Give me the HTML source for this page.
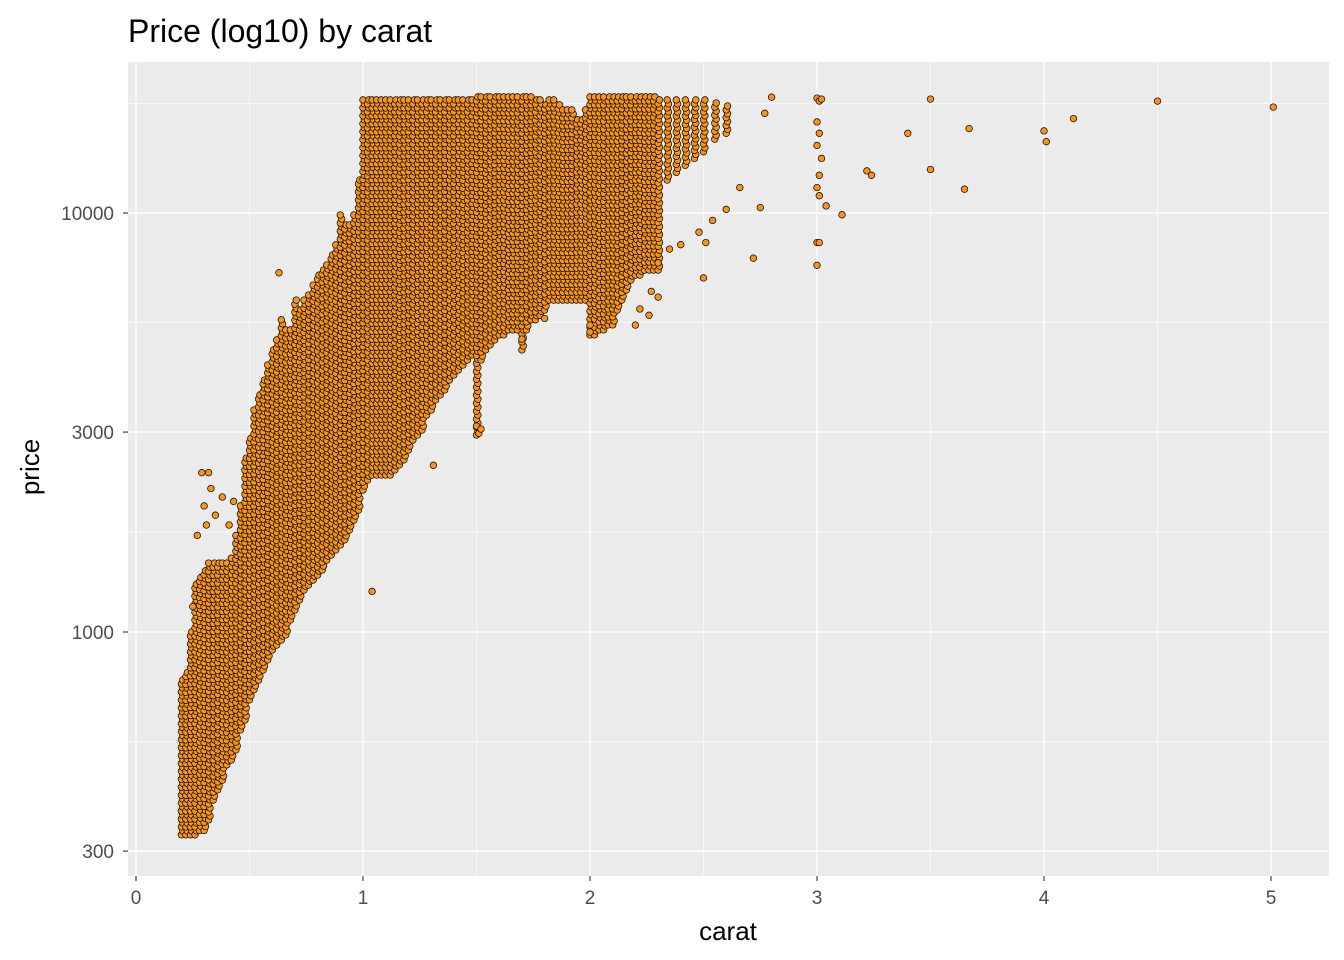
<!DOCTYPE html>
<html><head><meta charset="utf-8"><style>
body{margin:0;background:#fff;}
svg{display:block;font-family:"Liberation Sans",Arial,sans-serif;}
</style></head><body>
<svg id="chart" width="1344" height="960">
<text x="128" y="42" font-size="32" fill="#000">Price (log10) by carat</text>
<rect x="128" y="62" width="1201" height="814" fill="#ebebeb"/>
<g id="grid"></g>
<g id="pts"></g>
<g id="axes"></g>
<text x="728" y="940" font-size="26" text-anchor="middle" fill="#000">carat</text>
<text transform="translate(39,467) rotate(-90)" font-size="26" text-anchor="middle" fill="#000">price</text>
</svg>
<script>
// dense cloud summarised as columns: carat, low price, high price
const colCarat = [0.20,0.22,0.24,0.26,0.28,0.30,0.32,0.34,0.36,0.38,0.40,0.42,0.44,0.46,0.48,0.50,0.52,0.54,0.56,0.58,0.60,0.62,0.64,0.66,0.68,0.70,0.72,0.74,0.76,0.78,0.80,0.82,0.84,0.86,0.88,0.90,0.92,0.94,0.96,0.98,1.00,1.02,1.04,1.06,1.08,1.10,1.12,1.14,1.16,1.18,1.20,1.22,1.24,1.26,1.28,1.30,1.32,1.34,1.36,1.38,1.40,1.42,1.44,1.46,1.48,1.50,1.52,1.54,1.56,1.58,1.60,1.62,1.64,1.66,1.68,1.70,1.72,1.74,1.76,1.78,1.80,1.82,1.84,1.86,1.88,1.90,1.92,1.94,1.96,1.98,2.00,2.02,2.04,2.06,2.08,2.10,2.12,2.14,2.16,2.18,2.20,2.22,2.24,2.26,2.28,2.30,2.34,2.38,2.42,2.46,2.50,2.55,2.60];
const colLow = [328,328,328,328,336,336,356,397,420,443,482,495,523,584,617,689,728,768,811,858,906,931,957,984,1069,1129,1192,1259,1294,1330,1368,1406,1485,1527,1570,1614,1660,1751,1850,1954,2182,2305,2370,2370,2370,2370,2370,2437,2505,2576,2718,2872,2952,3034,3296,3388,3580,3680,3783,3993,4105,4220,4338,4459,4584,2952,4459,4712,4844,4979,5118,5118,5261,5261,5261,4712,5261,5559,5559,5700,5868,6195,6195,6195,6195,6195,6195,6195,6195,6195,5118,5118,5261,5261,5408,5408,5868,6195,6546,6917,7110,7110,7308,7308,7308,7308,11990,12500,13000,13500,14000,15000,15500];
const colHigh = [768,800,1000,1300,1350,1400,1460,1460,1460,1460,1460,1500,1700,2000,2600,2900,3388,3680,3993,4338,4712,4979,5559,5261,5261,6195,5868,6195,6368,6729,7110,7308,7514,7940,8392,9890,9360,9360,9890,11990,18620,18620,18620,18620,18620,18620,18620,18620,18620,18620,18620,18620,18620,18620,18620,18620,18620,18620,18620,18620,18620,18620,18620,18620,18620,18930,18930,18930,18930,18930,18930,18930,18930,18930,18930,18930,18930,18930,18620,18620,18110,18620,18620,18110,17620,17620,17620,16690,16690,17620,18930,18930,18930,18930,18930,18930,18930,18930,18930,18930,18930,18930,18930,18930,18930,18620,18620,18620,18620,18620,18620,18300,18000];
// individual sparse points
const outCarat = [3.00,3.01,3.02,3.00,3.01,3.00,3.02,3.01,3.00,3.01,3.04,3.11,3.00,3.01,3.00,3.50,4.50,5.01,4.13,3.40,3.67,4.00,4.01,3.22,3.24,3.50,3.65,2.80,2.77,2.72,2.75,2.66,2.60,2.54,2.50,2.51,2.48,2.40,2.35,2.30,2.27,2.20,2.00,2.00,1.50,1.51,1.52,1.04,1.31,0.63,1.80,1.70,2.26,2.22,2.30,0.29,0.32,0.30,0.33,0.35,0.25,0.27,0.31,0.38,0.41,0.43];
const outPrice = [18800,18500,18700,16500,15500,14500,13500,12300,11500,11000,10400,9900,8500,8500,7500,18700,18500,17900,16800,15500,15900,15700,14800,12600,12300,12700,11400,18900,17300,7800,10300,11500,10200,9600,7000,8500,9000,8400,8200,7600,6500,5400,5200,5400,3100,2980,3050,1250,2500,7200,5600,5000,5700,5900,6300,2400,2400,2000,2200,1900,1150,1700,1800,2100,1800,2050];

const X0=136, XS=227, Y1000=632, YS=419;
const sx = c => X0 + c*XS;
const sy = p => Y1000 - (Math.log10(p)-3)*YS;
const NS='http://www.w3.org/2000/svg';
const grid=document.getElementById('grid'), pts=document.getElementById('pts'), axes=document.getElementById('axes');
function mk(tag, attrs, parent){const e=document.createElementNS(NS,tag);for(const k in attrs)e.setAttribute(k,attrs[k]);parent.appendChild(e);return e;}

const xTicks=[0,1,2,3,4,5], xMinor=[0.5,1.5,2.5,3.5,4.5];
const yTicks=[300,1000,3000,10000], yMinor=[547.7,1732,5477,18257];
xMinor.forEach(v=>{const l=mk('line',{x1:sx(v),x2:sx(v),y1:62,y2:876,stroke:'#fff','stroke-width':0.6},grid);

});
yMinor.forEach(v=>{const l=mk('line',{x1:128,x2:1329,y1:sy(v),y2:sy(v),stroke:'#fff','stroke-width':0.6},grid);

});
xTicks.forEach(v=>{const l=mk('line',{x1:sx(v),x2:sx(v),y1:62,y2:876,stroke:'#fff','stroke-width':1.3},grid);


const t=mk('line',{x1:sx(v),x2:sx(v),y1:876,y2:881,stroke:'#333','stroke-width':1.1},axes);


const tx=mk('text',{x:sx(v),y:904,'font-size':19,'text-anchor':'middle',fill:'#4d4d4d'},axes);tx.textContent=v;

});
yTicks.forEach(v=>{const l=mk('line',{x1:128,x2:1329,y1:sy(v),y2:sy(v),stroke:'#fff','stroke-width':1.3},grid);


const t=mk('line',{x1:123,x2:128,y1:sy(v),y2:sy(v),stroke:'#333','stroke-width':1.1},axes);


const tx=mk('text',{x:114,y:sy(v)+7,'font-size':19,'text-anchor':'end',fill:'#4d4d4d'},axes);tx.textContent=v;

});

const ptStyle={r:3.3,fill:'#f7941e',stroke:'#000','stroke-width':0.7};
function dot(c,p){const e=mk('circle',Object.assign({cx:sx(c).toFixed(1),cy:sy(p).toFixed(1)},ptStyle),pts);

}
colCarat.forEach((c,i)=>{
  const lo=Math.log10(colLow[i]), hi=Math.log10(colHigh[i]);
  const n=Math.max(1,Math.round((hi-lo)*YS/4));
  for(let k=0;k<=n;k++){dot(c + (k%2)*0.006, Math.pow(10, lo+(hi-lo)*k/n));}
});
outCarat.forEach((c,i)=>dot(c,outPrice[i]));
</script>
</body></html>
